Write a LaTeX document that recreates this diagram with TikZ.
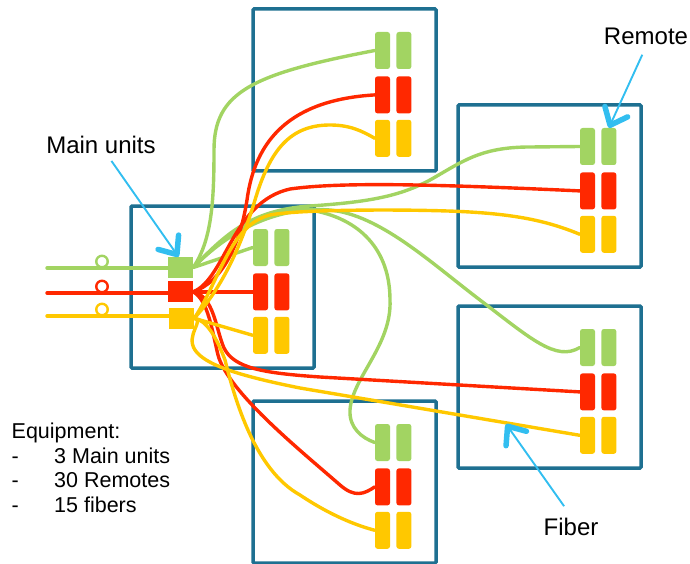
\documentclass[tikz,border=0pt]{standalone}
\usepackage{fontspec}
\setmainfont{Liberation Sans}
\usepackage{xcolor}
\usetikzlibrary{positioning}
\usetikzlibrary{arrows.meta}

\definecolor{boxteal}{RGB}{30,112,145}
\definecolor{callout}{RGB}{50,190,240}
\definecolor{fgreen}{RGB}{162,212,98}
\definecolor{fred}{RGB}{255,40,0}
\definecolor{fyellow}{RGB}{255,200,0}

\pgfdeclarelayer{bg}
\pgfsetlayers{bg,main}

\newcommand{\eqdash}{\makebox[42.5pt][l]{-}}

\tikzset{
	boxline/.style={draw=boxteal, line width=3.5pt, rounded corners=1pt},
	fiber/.style={line width=3.4pt, line cap=round},
	plug/.style={rectangle, rounded corners=2.5pt, minimum width=15pt, minimum height=37pt, inner sep=0pt},
	unit/.style={rectangle, minimum width=25pt, minimum height=21pt, inner sep=0pt},
	coil/.style={circle, minimum size=11.5pt, inner sep=0pt, line width=2.4pt},
	hint/.style={draw=callout, line width=1.9pt, -{Straight Barb[length=15pt,width=25pt,line width=5.5pt,round]}},
	lbltext/.style={font=\fontsize{24}{28}\selectfont, inner sep=2pt}
}

\begin{document}
\begin{tikzpicture}[x=1pt, y=-1pt]
		\useasboundingbox (0,0) rectangle (690,564);
		% boxes with their remotes
		\foreach \bx/\rx/\ry in {main/253/229, top/375/32, rtop/580/128, rbot/580/329, bot/375/424} {
			\begin{pgfonlayer}{bg}
				\draw[boxline] (\rx-122,\ry-23) rectangle (\rx+61,\ry+139);
			\end{pgfonlayer}
			\node[plug, fill=fgreen] (\bx-g) at (\rx+7.5,\ry+18.5) {};
			\node[plug, fill=fgreen, right=6pt of \bx-g] (\bx-g2) {};
			\node[plug, fill=fred, below=7pt of \bx-g] (\bx-r) {};
			\node[plug, fill=fred, right=6pt of \bx-r] (\bx-r2) {};
			\node[plug, fill=fyellow, below=6pt of \bx-r] (\bx-y) {};
			\node[plug, fill=fyellow, right=6pt of \bx-y] (\bx-y2) {};
		}
		% main units
		\node[unit, fill=fgreen] (mu-g) at (180.5,267.5) {};
		\node[unit, fill=fred, below=3pt of mu-g] (mu-r) {};
		\node[unit, fill=fyellow, below=5pt of mu-r, xshift=1pt] (mu-y) {};
		\foreach \c/\cc/\yy in {g/fgreen/268, r/fred/293, y/fyellow/316} {
			\coordinate (in-\c) at (47,\yy);
			\node[coil, draw=\cc] (coil-\c) at (102,\yy-6.5) {};
			\draw[fiber, draw=\cc] (in-\c) -- (in-\c -| mu-\c.west);
		}
		\coordinate (fibpt) at (506,424);
		\begin{pgfonlayer}{bg}
			% green
			\draw[fiber, fgreen] (mu-g.east) -- (main-g.west);
			\draw[fiber, fgreen] (mu-g.east) .. controls (212,240) and (214,200) .. (214,150) .. controls (214,92) and (252,74) .. (top-g.west);
			\draw[fiber, fgreen] (mu-g.east) .. controls (225,235) and (250,210) .. (310,206) .. controls (370,202) and (400,196) .. (430,180) .. controls (462,162) and (480,147) .. (530,147) -- (rtop-g.west);
			\draw[fiber, fgreen] (mu-g.east) .. controls (228,232) and (275,206) .. (330,210) .. controls (380,215) and (430,262) .. (480,300) .. controls (530,338) and (556,362) .. (rbot-g.west);
			\draw[fiber, fgreen] (mu-g.east) .. controls (226,234) and (268,206) .. (310,210) .. controls (360,218) and (390,250) .. (390,300) .. controls (392,345) and (352,378) .. (350,410) .. controls (349,428) and (362,438) .. (bot-g.west);
			% red
			\draw[fiber, fred] (mu-r.east) -- (main-r.west);
			\draw[fiber, fred] (mu-r.east) .. controls (222,282) and (240,245) .. (247,200) .. controls (255,140) and (290,100) .. (top-r.west);
			\draw[fiber, fred] (mu-r.east) .. controls (226,278) and (232,202) .. (290,189) .. controls (340,182) and (430,184) .. (rtop-r.west);
			\draw[fiber, fred] (mu-r.east) .. controls (214,296) and (216,330) .. (224,348) .. controls (234,368) and (262,373) .. (320,377) -- (rbot-r.west);
			\draw[fiber, fred] (mu-r.east) .. controls (208,300) and (212,330) .. (218,355) .. controls (228,392) and (300,450) .. (340,485) .. controls (355,498) and (364,494) .. (bot-r.west);
			% yellow
			\draw[fiber, fyellow] (mu-y.east) -- (main-y.west);
			\draw[fiber, fyellow] (mu-y.east) .. controls (220,290) and (240,250) .. (255,200) .. controls (270,150) and (290,125) .. (330,125) .. controls (350,125) and (362,131) .. (top-y.west);
			\draw[fiber, fyellow] (mu-y.east) .. controls (220,280) and (230,225) .. (270,215) .. controls (300,209) and (420,209) .. (470,212) .. controls (520,215) and (550,222) .. (rtop-y.west);
			\draw[fiber, fyellow] (mu-y.east) .. controls (205,320) and (185,335) .. (195,350) .. controls (205,365) and (240,376) .. (300,388) -- (rbot-y.west);
			\draw[fiber, fyellow] (mu-y.east) .. controls (206,320) and (216,336) .. (225,360) .. controls (235,400) and (255,470) .. (300,495) .. controls (330,515) and (355,525) .. (bot-y.west);
		\end{pgfonlayer}
		% labels
		\node[lbltext] (mainlbl) at (101,145) {Main units};
		\node[lbltext] (remlbl) at (646,36) {Remote};
		\node[lbltext] (fiblbl) at (571,527) {Fiber};
		\draw[hint, shorten <=6pt] ([xshift=7pt]mainlbl.south) -- ([xshift=-2pt]mu-g.north);
		\draw[hint, shorten <=9pt] (remlbl.south) -- (rtop-g2.north);
		\draw[hint, shorten <=12pt] (fiblbl.north) -- (fibpt);
		\node[anchor=north west, inner sep=0pt, align=left, font=\fontsize{21.5}{24.5}\selectfont] (equip) at (11.5,423) {Equipment:\\\eqdash 3 Main units\\\eqdash 30 Remotes\\\eqdash 15 fibers};
	\end{tikzpicture}
\end{document}
